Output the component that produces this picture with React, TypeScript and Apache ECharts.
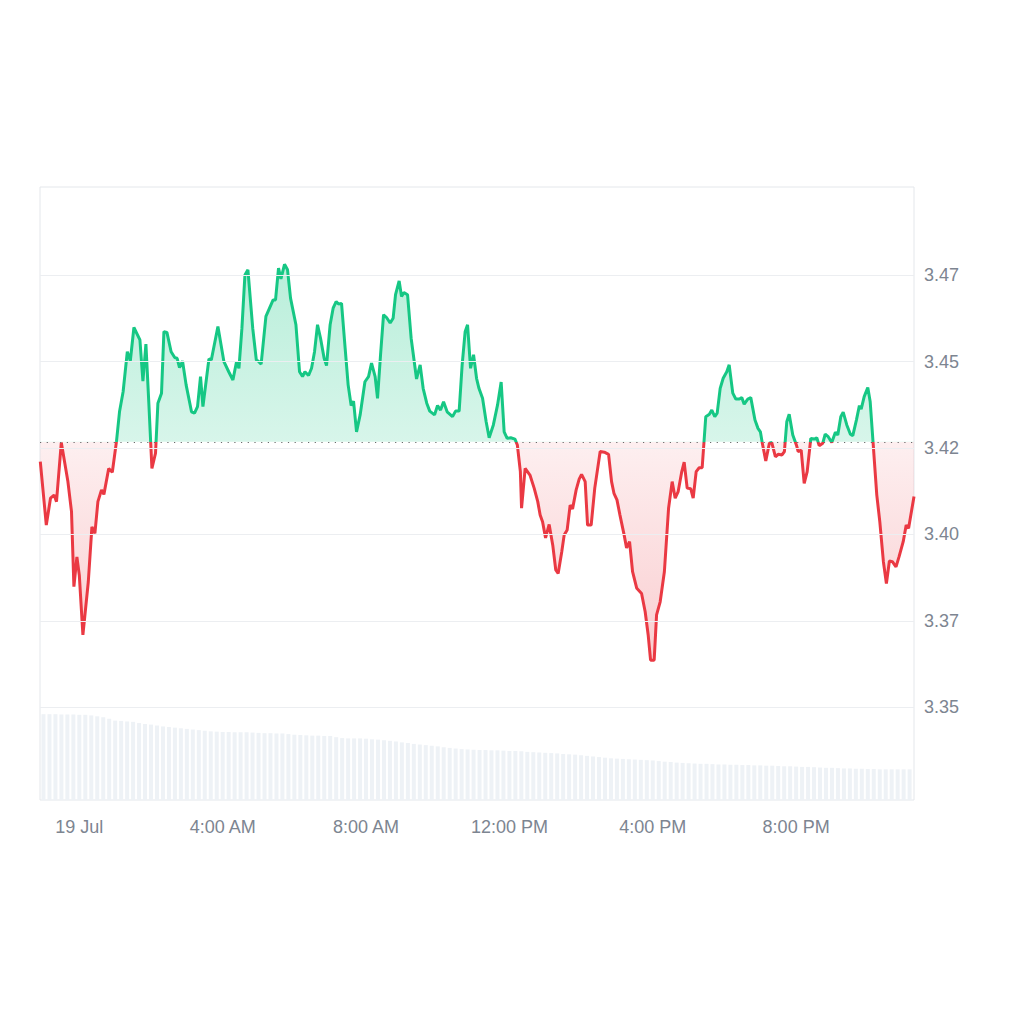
import React, { useEffect, useRef } from "react";
import * as echarts from "echarts";

// Price trace: minutes relative to 19 Jul 00:00, and price (USD)
const minutes = [
  -62, -52, -45, -39, -35, -27, -16, -10, -6, -1, 3, 9, 18, 24, 29, 34, 40, 44, 52, 58,
  65, 70, 76, 83, 88, 94, 104, 109, 114, 119, 124, 130, 134, 140, 144, 149, 156, 162, 166, 170,
  175, 181, 190, 195, 200, 205, 209, 219, 223, 234, 244, 252, 259, 265, 269, 274, 279, 284, 292, 298,
  301, 306, 314, 320, 326, 330, 335, 339, 345, 350, 355, 364, 370, 375, 379, 385, 390, 395, 400, 405,
  411, 415, 421, 426, 431, 435, 440, 446, 451, 456, 460, 465, 471, 479, 485, 490, 496, 500, 505, 510,
  515, 521, 526, 530, 536, 540, 544, 550, 556, 565, 571, 576, 582, 587, 595, 600, 605, 610, 616, 625,
  630, 636, 641, 646, 650, 655, 660, 665, 669, 675, 681, 686, 693, 700, 706, 711, 716, 722, 729, 733,
  738, 740, 746, 754, 761, 767, 771, 775, 780, 786, 792, 797, 801, 807, 811, 816, 821, 825, 831, 836,
  840, 846, 850, 856, 862, 871, 878, 885, 890, 894, 899, 904, 911, 915, 920, 925, 932, 940, 946, 951,
  955, 961, 965, 971, 978, 985, 991, 996, 1001, 1007, 1011, 1016, 1022, 1026, 1031, 1036, 1041, 1047, 1053, 1057,
  1062, 1066, 1071, 1076, 1082, 1086, 1092, 1097, 1103, 1107, 1111, 1117, 1122, 1129, 1134, 1138, 1141, 1147, 1153, 1157,
  1163, 1168, 1174, 1178, 1182, 1186, 1192, 1198, 1201, 1206, 1211, 1216, 1222, 1228, 1232, 1236, 1242, 1246, 1251, 1257,
  1263, 1267, 1272, 1276, 1282, 1288, 1292, 1298, 1303, 1306, 1311, 1317, 1321, 1332, 1337, 1343, 1348, 1353, 1358, 1364,
  1369, 1376, 1381, 1385, 1394,
];

const prices = [
  3.4211, 3.4027, 3.4105, 3.4114, 3.4095, 3.4266, 3.4153, 3.4066, 3.3849, 3.3935, 3.3882, 3.3709, 3.3863, 3.4022, 3.4003, 3.4095, 3.4129, 3.4116, 3.4191, 3.418,
  3.427, 3.4355, 3.4413, 3.4529, 3.4502, 3.4599, 3.4563, 3.4444, 3.4551, 3.4375, 3.4191, 3.4235, 3.438, 3.4409, 3.4587, 3.4585, 3.4529, 3.4512, 3.451, 3.4483,
  3.4502, 3.4433, 3.4355, 3.4351, 3.437, 3.4457, 3.437, 3.4508, 3.4505, 3.4602, 3.45, 3.4471, 3.4447, 3.45, 3.4481, 3.4597, 3.4751, 3.4766, 3.4597, 3.4505,
  3.4502, 3.4493, 3.4631, 3.4655, 3.4679, 3.4679, 3.4771, 3.474, 3.4782, 3.4766, 3.4684, 3.4607, 3.4471, 3.4457, 3.4471, 3.446, 3.4481, 3.4529, 3.4607, 3.4568,
  3.451, 3.4489, 3.4607, 3.4655, 3.4674, 3.4667, 3.4669, 3.4539, 3.4433, 3.4373, 3.4386, 3.4297, 3.4346, 3.4442, 3.4457, 3.4496, 3.4457, 3.4394, 3.452, 3.4636,
  3.4628, 3.4612, 3.4626, 3.4694, 3.4734, 3.4689, 3.47, 3.4694, 3.4568, 3.445, 3.4491, 3.4423, 3.438, 3.4357, 3.4346, 3.4373, 3.436, 3.4384, 3.4355, 3.4341,
  3.4357, 3.4357, 3.4491, 3.4587, 3.4607, 3.4481, 3.452, 3.4452, 3.4423, 3.4394, 3.4326, 3.428, 3.4317, 3.4375, 3.4441, 3.4297, 3.4278, 3.428, 3.4276, 3.4259,
  3.4182, 3.4076, 3.4191, 3.4172, 3.4134, 3.4095, 3.4056, 3.4037, 3.399, 3.4029, 3.3969, 3.3897, 3.3887, 3.395, 3.3998, 3.4013, 3.4085, 3.4074, 3.4129, 3.416,
  3.4174, 3.4153, 3.4027, 3.4027, 3.4134, 3.424, 3.4238, 3.4232, 3.4153, 3.4119, 3.41, 3.4056, 3.3998, 3.3961, 3.3979, 3.3892, 3.3844, 3.3829, 3.3776, 3.3709,
  3.3636, 3.3636, 3.3767, 3.3805, 3.3892, 3.4076, 3.4153, 3.4105, 3.4124, 3.4182, 3.4209, 3.4134, 3.4132, 3.4105, 3.4182, 3.4193, 3.4193, 3.4341, 3.4348, 3.436,
  3.4341, 3.4351, 3.4423, 3.4452, 3.4471, 3.4491, 3.4409, 3.4392, 3.4392, 3.4396, 3.4377, 3.4392, 3.4396, 3.4331, 3.4307, 3.4297, 3.4266, 3.4213, 3.4264, 3.4266,
  3.4225, 3.4232, 3.423, 3.424, 3.4326, 3.4348, 3.4288, 3.4259, 3.424, 3.4244, 3.4148, 3.4182, 3.4278, 3.4276, 3.428, 3.4257, 3.4264, 3.429, 3.4283, 3.4266,
  3.4296, 3.4288, 3.4341, 3.4354, 3.4317, 3.429, 3.4286, 3.4331, 3.4373, 3.4363, 3.4399, 3.4425, 3.4384, 3.4114, 3.4037, 3.3921, 3.3858, 3.3923, 3.3921, 3.3906,
  3.3935, 3.3979, 3.4027, 3.4018, 3.411,
];

// Reference (opening) price shown as the dotted line
const basePrice = 3.4268;

// Volume bars (millions), one every 10 minutes starting 18 Jul 23:00
const volumeStartMinute = -60;
const volumeStepMinutes = 10;
const volumes = [
  28.0, 28.0, 28.0, 27.9, 27.9, 27.9, 27.8, 27.8, 27.6, 27.3, 27.0, 26.5, 25.9, 25.8, 25.6, 25.5, 25.1, 24.8, 24.6, 24.3,
  24.0, 23.8, 23.6, 23.4, 23.2, 23.0, 22.8, 22.6, 22.4, 22.3, 22.2, 22.2, 22.1, 22.1, 22.1, 22.0, 21.9, 21.8, 21.8, 21.7,
  21.7, 21.5, 21.3, 21.2, 21.1, 21.0, 21.0, 20.9, 20.9, 20.5, 20.2, 20.1, 20.1, 20.1, 20.0, 19.8, 19.7, 19.5, 19.3, 19.1,
  18.8, 18.6, 18.3, 18.1, 17.9, 17.7, 17.5, 17.2, 17.0, 16.8, 16.6, 16.5, 16.4, 16.3, 16.3, 16.2, 16.2, 16.1, 16.0, 16.0,
  15.9, 15.7, 15.6, 15.5, 15.4, 15.3, 15.2, 15.0, 14.9, 14.8, 14.6, 14.4, 14.2, 14.0, 13.8, 13.6, 13.5, 13.4, 13.3, 13.2,
  13.1, 13.0, 12.9, 12.7, 12.5, 12.4, 12.2, 12.1, 12.0, 11.9, 11.8, 11.8, 11.7, 11.6, 11.6, 11.5, 11.5, 11.4, 11.4, 11.3,
  11.3, 11.2, 11.2, 11.1, 11.0, 11.0, 10.9, 10.8, 10.8, 10.7, 10.6, 10.5, 10.5, 10.4, 10.3, 10.3, 10.2, 10.2, 10.1, 10.1,
  10.0, 10.0, 10.0, 10.0, 10.0, 10.0,
];

// Axis settings
const xMinMinute = -62.5;
const xMaxMinute = 1394;
const xLabelStepHours = 4;
const priceMin = 3.325;
const priceMax = 3.5;
const priceStep = 0.025;
const priceGridValues = [3.35, 3.375, 3.4, 3.425, 3.45, 3.475];
const volumeAxisMax = 200;

const GREEN = "#16c784";
const RED = "#ea3943";
const LABEL_COLOR = "#7d8591";
const FONT = "'Liberation Sans', Arial, Helvetica, sans-serif";

const DAY0 = new Date(2024, 6, 19, 0, 0, 0).getTime();
const MIN_MS = 60 * 1000;
const toTime = (m: number) => DAY0 + m * MIN_MS;

function xLabel(t: number): string {
  const d = new Date(t);
  const h = d.getHours();
  const mi = d.getMinutes();
  if (h === 0 && mi === 0) return "19 Jul";
  const h12 = h % 12 === 0 ? 12 : h % 12;
  return `${h12}:${String(mi).padStart(2, "0")} ${h < 12 ? "AM" : "PM"}`;
}

function yLabel(v: number): string {
  return (Math.floor(v * 100 + 1e-6) / 100).toFixed(2);
}

export default function App() {
  const ref = useRef<HTMLDivElement>(null);

  useEffect(() => {
    if (!ref.current) return;
    const chart = echarts.init(ref.current, null, { renderer: "svg" });

    const maxP = Math.max(...prices);
    const minP = Math.min(...prices);
    const split = (maxP - basePrice) / (maxP - minP);

    const areaColor = new echarts.graphic.LinearGradient(0, 0, 0, 1, [
      { offset: 0, color: "rgba(22,199,132,0.30)" },
      { offset: split, color: "rgba(22,199,132,0.17)" },
      { offset: split, color: "rgba(234,57,67,0.08)" },
      { offset: 1, color: "rgba(234,57,67,0.25)" },
    ]);

    const gridLineItems = priceGridValues.map((v) => ({
      yAxis: v,
      lineStyle: { color: "#eceef1", type: "solid", width: 1 },
    }));

    const option: any = {
      animation: false,
      textStyle: { fontFamily: FONT },
      grid: [
        { left: 40, right: 110, top: 189, bottom: 230.5, show: false },
        {
          left: 40,
          right: 110,
          top: 187,
          bottom: 224,
          show: true,
          borderColor: "#e4e7eb",
          borderWidth: 1,
          backgroundColor: "transparent",
        },
      ],
      xAxis: [
        { gridIndex: 0, type: "time", min: toTime(xMinMinute), max: toTime(xMaxMinute), show: false },
        {
          gridIndex: 1,
          type: "time",
          min: toTime(xMinMinute),
          max: toTime(xMaxMinute),
          minInterval: xLabelStepHours * 60 * MIN_MS,
          maxInterval: xLabelStepHours * 60 * MIN_MS,
          axisLine: { show: false },
          axisTick: { show: false },
          splitLine: { show: false },
          axisLabel: {
            formatter: (v: number) => xLabel(v),
            color: LABEL_COLOR,
            fontSize: 18,
            fontFamily: FONT,
            margin: 18,
            showMinLabel: false,
            showMaxLabel: false,
          },
        },
      ],
      yAxis: [
        {
          gridIndex: 0,
          type: "value",
          position: "right",
          min: priceMin,
          max: priceMax,
          interval: priceStep,
          axisLine: { show: false },
          axisTick: { show: false },
          splitLine: { show: false },
          axisLabel: {
            showMinLabel: false,
            showMaxLabel: false,
            formatter: (v: number) => yLabel(v),
            color: LABEL_COLOR,
            fontSize: 18,
            fontFamily: FONT,
            margin: 10,
          },
        },
        { gridIndex: 1, type: "value", min: 0, max: volumeAxisMax, show: false },
      ],
      visualMap: {
        type: "piecewise",
        show: false,
        seriesIndex: 0,
        dimension: 1,
        pieces: [
          { gt: basePrice, lte: 100, color: GREEN },
          { gte: 0, lte: basePrice, color: RED },
        ],
      },
      series: [
        {
          type: "line",
          xAxisIndex: 0,
          yAxisIndex: 0,
          data: minutes.map((m, i) => [toTime(m), prices[i]]),
          symbol: "none",
          lineStyle: { width: 3 },
          areaStyle: { origin: basePrice, color: areaColor, opacity: 1 },
          z: 3,
          markLine: {
            silent: true,
            precision: 6,
            symbol: ["none", "none"],
            label: { show: false },
            lineStyle: { color: "#6a6a6a", type: [1.2, 5.5], width: 1.2 },
            data: [...gridLineItems, { yAxis: basePrice }],
          },
        },
        {
          type: "bar",
          xAxisIndex: 1,
          yAxisIndex: 1,
          data: volumes.map((v, i) => [toTime(volumeStartMinute + i * volumeStepMinutes), v]),
          barWidth: 4,
          itemStyle: { color: "#eef2f6" },
          z: 1,
          silent: true,
        },
      ],
    };

    chart.setOption(option);
    return () => chart.dispose();
  }, []);

  return (
    <div
      ref={ref}
      style={{ position: "fixed", left: 0, top: 0, width: 1024, height: 1024, background: "#fff" }}
    />
  );
}
